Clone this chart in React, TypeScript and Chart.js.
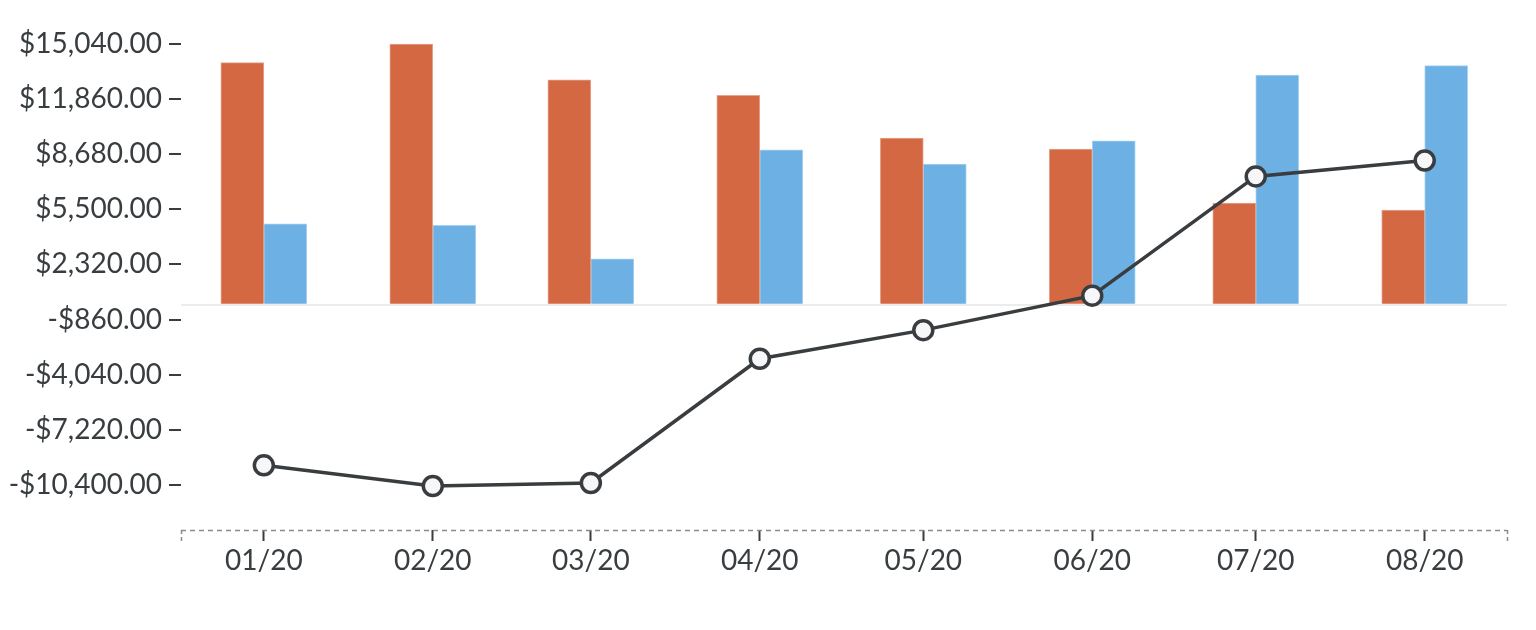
import { useEffect, useRef } from 'react'
import Chart from 'chart.js/auto'

// month starts (drawn on a linear day axis so spacing follows month length)
const months = ['2020-01-01', '2020-02-01', '2020-03-01', '2020-04-01', '2020-05-01', '2020-06-01', '2020-07-01', '2020-08-01']
const monthLabels = ['01/20', '02/20', '03/20', '04/20', '05/20', '06/20', '07/20', '08/20']

const outgoing = [13960, 15040, 12970, 12080, 9610, 8970, 5860, 5460]
const incoming = [4670, 4570, 2640, 8930, 8110, 9450, 13250, 13790]
const net = [-9270, -10460, -10290, -3120, -1470, 520, 7400, 8320]

const yTicks = [-10400, -7220, -4040, -860, 2320, 5500, 8680, 11860, 15040]

const TEXT = '#383d40'
const FONT = { family: 'Lato, "Noto Sans", sans-serif', size: 28 }

const dayOf = (s: string) => (Date.parse(s) - Date.parse(months[0])) / 86400000
const xs = months.map(dayOf)
const X_MIN = -15.2
const X_MAX = 228.1

const money = (v: number) => {
  const s = Math.abs(v).toLocaleString('en-US', { minimumFractionDigits: 2, maximumFractionDigits: 2 })
  return (v < 0 ? '-$' : '$') + s
}

const isEnd = (ctx: any) => ctx.index === 0 || ctx.index === xs.length + 1

// dotted axis line along the bottom of the plot
const dottedAxis = {
  id: 'dottedAxis',
  beforeDatasetsDraw(chart: any) {
    const { ctx, chartArea } = chart
    ctx.save()
    ctx.strokeStyle = '#8a8a8a'
    ctx.lineWidth = 1.5
    ctx.setLineDash([5, 4])
    ctx.beginPath()
    ctx.moveTo(chartArea.left, chartArea.bottom + 0.5)
    ctx.lineTo(chartArea.right, chartArea.bottom + 0.5)
    ctx.stroke()
    ctx.restore()
  }
}

export default function App() {
  const canvasRef = useRef<HTMLCanvasElement>(null)
  const chartRef = useRef<Chart | null>(null)

  useEffect(() => {
    if (!canvasRef.current) return
    if (chartRef.current) chartRef.current.destroy()

    chartRef.current = new Chart(canvasRef.current, {
      type: 'bar',
      data: {
        datasets: [
          {
            type: 'line',
            data: net.map((y, i) => ({ x: xs[i], y })),
            borderColor: '#393d3f',
            borderWidth: 3.5,
            pointRadius: 9.5,
            pointBorderWidth: 3.5,
            pointBackgroundColor: '#f7f7fa',
            pointBorderColor: '#393d3f',
            tension: 0,
            order: 0
          } as any,
          {
            type: 'bar',
            data: outgoing.map((y, i) => ({ x: xs[i], y })),
            backgroundColor: '#d36842',
            borderColor: '#e6a48c',
            borderWidth: 1,
            barThickness: 43,
            order: 1
          },
          {
            type: 'bar',
            data: incoming.map((y, i) => ({ x: xs[i], y })),
            backgroundColor: '#6cb0e4',
            borderColor: '#a9d3f3',
            borderWidth: 1,
            barThickness: 43,
            order: 1
          }
        ]
      },
      options: {
        responsive: true,
        maintainAspectRatio: false,
        animation: false,
        layout: { autoPadding: false, padding: { top: 10, right: 29, left: 0, bottom: 0 } },
        plugins: { legend: { display: false }, tooltip: { enabled: false } },
        scales: {
          x: {
            type: 'linear',
            min: X_MIN,
            max: X_MAX,
            offset: false,
            afterBuildTicks: (scale: any) => {
              scale.ticks = [X_MIN, ...xs, X_MAX].map(v => ({ value: v }))
            },
            afterFit: (scale: any) => {
              scale.height = 100
              scale.paddingLeft = 0
              scale.paddingRight = 0
            },
            border: { display: false },
            grid: {
              offset: false,
              drawOnChartArea: false,
              drawTicks: true,
              tickLength: 11,
              tickWidth: (ctx: any) => (isEnd(ctx) ? 1.5 : 2),
              tickColor: (ctx: any) => (isEnd(ctx) ? '#8a8a8a' : TEXT),
              tickBorderDash: (ctx: any) => (isEnd(ctx) ? [4, 3] : [])
            },
            ticks: {
              color: TEXT,
              font: FONT,
              padding: 3,
              maxRotation: 0,
              autoSkip: false,
              callback: (v: any) => {
                const i = xs.indexOf(Number(v))
                return i >= 0 ? monthLabels[i] : ''
              }
            }
          },
          y: {
            type: 'linear',
            min: -13000,
            max: 17000,
            afterBuildTicks: (scale: any) => {
              scale.ticks = [...yTicks, 0].sort((a, b) => a - b).map(v => ({ value: v }))
            },
            afterFit: (scale: any) => {
              scale.width = 181
              scale.paddingTop = 0
              scale.paddingBottom = 0
            },
            border: { display: false },
            grid: {
              color: (ctx: any) => (ctx.tick && ctx.tick.value === 0 ? '#ececec' : 'transparent'),
              lineWidth: 2,
              tickLength: 12,
              tickWidth: 2,
              tickColor: (ctx: any) => (ctx.tick && ctx.tick.value === 0 ? 'transparent' : TEXT)
            },
            ticks: {
              color: TEXT,
              font: FONT,
              padding: 7,
              callback: (v: any) => (Number(v) === 0 ? '' : money(Number(v)))
            }
          }
        }
      },
      plugins: [dottedAxis]
    })

    return () => {
      if (chartRef.current) {
        chartRef.current.destroy()
        chartRef.current = null
      }
    }
  }, [])

  return (
    <div style={{ position: 'fixed', left: 0, top: 0, width: 1536, height: 630, background: '#fff' }}>
      <canvas ref={canvasRef} />
    </div>
  )
}
